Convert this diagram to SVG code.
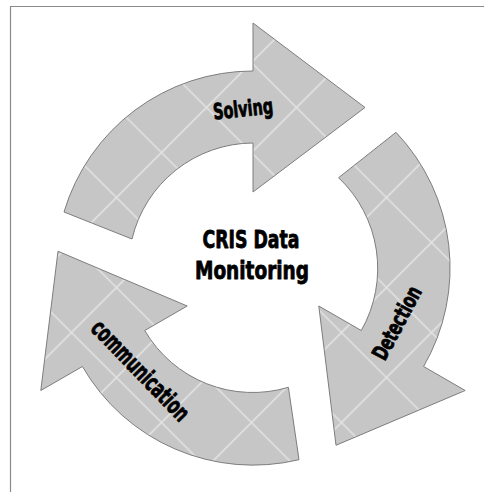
<svg xmlns="http://www.w3.org/2000/svg" width="484" height="492" viewBox="0 0 484 492">
<style>
.arrow{fill:url(#grid);stroke:#7d7d7d;stroke-width:1}
.lbl{font-family:"Liberation Sans Narrow","DejaVu Sans Condensed","Liberation Sans",sans-serif;font-weight:bold;fill:#000;text-anchor:middle;stroke:#000;stroke-width:0.8;stroke-linejoin:round}
</style>
<defs>
<pattern id="grid" patternUnits="userSpaceOnUse" width="63.64" height="63.64" patternTransform="rotate(45) translate(-0.7 25.5)">
<rect width="63.64" height="63.64" fill="#c6c6c6"/>
<path d="M31.82 0V63.64M0 31.82H63.64" stroke="#e4e4e4" stroke-width="1.6" fill="none"/>
</pattern>
</defs>
<rect width="484" height="492" fill="#ffffff"/>
<path d="M10.5 492V6.5H484" fill="none" stroke="#8a8a8a" stroke-width="1.2"/>
<g id="connectors">
<g id="solving">
<path class="arrow" d="M64 212A197 197 0 0 1 253 71L253 23L365 107.5L253 192L253 143A125 125 0 0 0 132 239Z"/>
<text class="lbl" font-size="22" textLength="60" lengthAdjust="spacingAndGlyphs" transform="translate(243 109) rotate(-6)" y="7.5">Solving</text>
</g>
<g id="detection">
<path class="arrow" d="M396 132.3A197 197 0 0 1 423.6 366.5L465.2 390.5L336 445.25L318.8 306L361.25 330.5A125 125 0 0 0 338.6 177.7Z"/>
<text class="lbl" font-size="22" textLength="80" lengthAdjust="spacingAndGlyphs" transform="translate(397 323) rotate(-62)" y="7.5">Detection</text>
</g>
<g id="communication">
<path class="arrow" d="M299 459.7A197 197 0 0 1 82.4 366.5L40.8 390.5L58 251.25L187.2 306L144.75 330.5A125 125 0 0 0 288.4 387.3Z"/>
<text class="lbl" font-size="24" textLength="130" lengthAdjust="spacingAndGlyphs" transform="translate(139 372) rotate(46)" y="6">communication</text>
</g>
</g>
<g id="center">
<text class="lbl" font-size="25" textLength="97" lengthAdjust="spacingAndGlyphs" x="251" y="248">CRIS Data</text>
<text class="lbl" font-size="25" textLength="114" lengthAdjust="spacingAndGlyphs" x="252" y="279">Monitoring</text>
</g>
</svg>
